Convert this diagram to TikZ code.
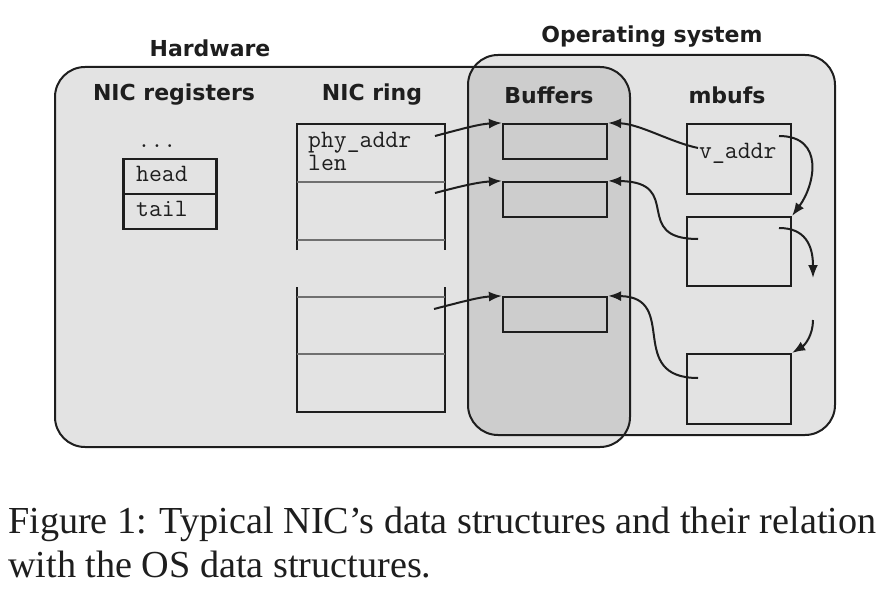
\documentclass[tikz,border=0pt]{standalone}
\usepackage{fontspec}
\setmainfont{Liberation Serif}
\setsansfont{DejaVu Sans}
\usetikzlibrary{arrows.meta}
\definecolor{lgray}{HTML}{E3E3E3}
\definecolor{dgray}{HTML}{CDCDCD}
\definecolor{ink}{HTML}{1E1E1E}
\definecolor{divc}{HTML}{707070}
\begin{document}
\begin{tikzpicture}[x=1pt,y=-1pt,
  hdr/.style={font=\fontsize{22}{26}\selectfont\sffamily\bfseries, text=ink, inner sep=0pt},
  mono/.style={font=\fontsize{25}{23}\selectfont\ttfamily, text=ink, inner sep=0pt},
  capt/.style={font=\fontsize{38.2}{44}\selectfont\rmfamily, text=ink, inner sep=0pt, anchor=base west},
  box/.style={draw=ink, line width=2.2pt, rectangle, inner sep=0pt},
  edge/.style={draw=ink, line width=2.2pt},
  divider/.style={draw=divc, line width=1.6pt},
  arr/.style={draw=ink, line width=2pt, -{Latex[length=13pt,width=10pt]}},
  region/.style={rounded corners=30pt}
]
\useasboundingbox (0,0) rectangle (894,604);

% regions
\fill[lgray, region] (55,67) rectangle (630,447);
\fill[lgray, region] (468,55) rectangle (835,435);
\begin{scope}
  \clip[region] (55,67) rectangle (630,447);
  \fill[dgray, region] (468,55) rectangle (835,435);
\end{scope}
\draw[ink, line width=2pt, region] (55,67) rectangle (630,447);
\draw[ink, line width=2pt, region] (468,55) rectangle (835,435);

% titles
\node[hdr] (hwt) at (210,48) {Hardware};
\node[hdr] (ost) at (652,37) {Operating system};
\node[hdr] (regt) at (174,95) {NIC registers};
\node[hdr] (ringt) at (372,95) {NIC ring};
\node[hdr] (buft) at (549,95) {Buffers};
\node[hdr] (mbt) at (727,95) {mbufs};

% NIC registers
\node[mono] (dots) at (157,146) {...};
\node[box, minimum width=93pt, minimum height=35pt] (head) at (170,176.5) {};
\node[box, minimum width=93pt, minimum height=35pt] (tail) at (170,211.5) {};
\node[mono, anchor=base west] (headt) at (136,182) {head};
\node[mono, anchor=base west] (tailt) at (136,217) {tail};

% NIC ring (upper part)
\draw[edge] (297,250) -- (297,124) -- (445,124) -- (445,250);
\draw[divider] (297,182) -- (445,182);
\draw[divider] (297,240) -- (445,240);
\node[mono, align=left, anchor=base west] (phy) at (308,171) {phy\_addr\\len};
% NIC ring (lower part)
\draw[edge] (297,287) -- (297,412) -- (445,412) -- (445,287);
\draw[divider] (297,297) -- (445,297);
\draw[divider] (297,354) -- (445,354);

% buffers
\node[box, minimum width=104pt, minimum height=35pt] (buf1) at (555,141.5) {};
\node[box, minimum width=104pt, minimum height=35pt] (buf2) at (555,199.5) {};
\node[box, minimum width=104pt, minimum height=35pt] (buf3) at (555,314.5) {};

% mbufs
\node[box, minimum width=104pt, minimum height=70pt] (mb1) at (739,159) {};
\node[box, minimum width=104pt, minimum height=69pt] (mb2) at (739,251.5) {};
\node[box, minimum width=104pt, minimum height=70pt] (mb3) at (739,389) {};
\node[mono, anchor=base west] (vaddr) at (699,159) {v\_addr};

% arrow end points
\coordinate (r1) at (435,136);
\coordinate (r2) at (435,193);
\coordinate (r3) at (434,309);
\coordinate (m1) at (698,148);
\coordinate (m2) at (698,239);
\coordinate (m3) at (698,378);
\coordinate (c1) at (779,136);
\coordinate (c2) at (779,228);
\coordinate (c2e) at (813,278);
\coordinate (c3) at (813,320);

% ring -> buffers
\draw[arr] (r1) .. controls (465,128) and (480,124) .. (buf1.north west);
\draw[arr] (r2) .. controls (465,185) and (480,182) .. (buf2.north west);
\draw[arr] (r3) .. controls (465,301) and (480,297) .. (buf3.north west);

% mbufs -> buffers
\draw[arr] (m1) .. controls (670,142) and (640,124) .. (buf1.north east);
\draw[arr] (m2) .. controls (630,239) and (685,182) .. (buf2.north east);
\draw[arr] (m3) .. controls (625,378) and (680,297) .. (buf3.north east);

% mbuf chain
\draw[arr] (c1) .. controls (825,136) and (815,185) .. (mb2.north east);
\draw[arr] (c2) .. controls (805,228) and (813,245) .. (c2e);
\draw[arr] (c3) .. controls (813,335) and (805,345) .. (mb3.north east);

% caption
\node[capt] (cap1) at (8,533) {Figure 1: Typical NIC’s data structures and their relation};
\node[capt] (cap2) at (8,577) {with the OS data structures.};
\end{tikzpicture}
\end{document}
